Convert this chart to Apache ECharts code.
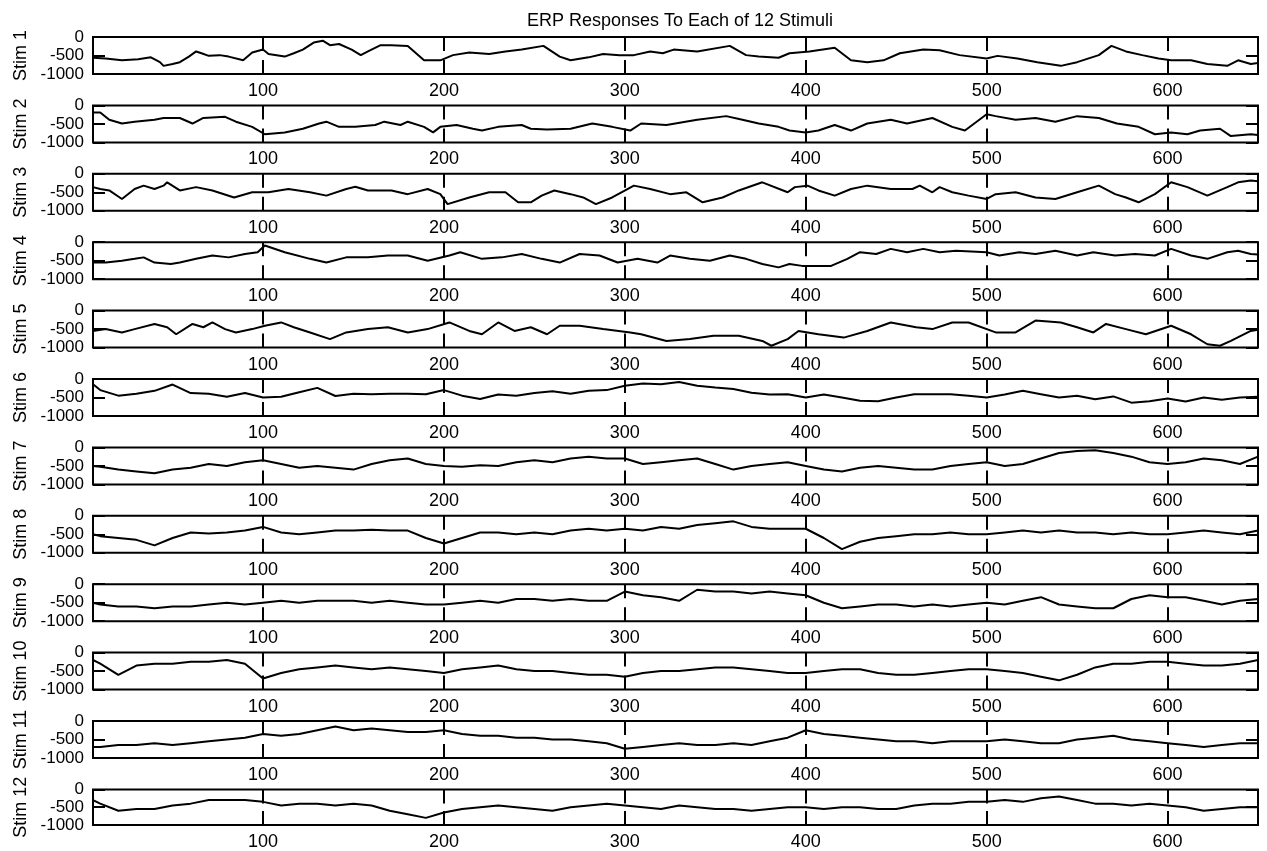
<!DOCTYPE html>
<html><head><meta charset="utf-8">
<script src="https://cdn.jsdelivr.net/npm/echarts@6/dist/echarts.min.js"></script>
<style>html,body{margin:0;padding:0;background:#fff}#c{width:1267px;height:851px}</style>
</head><body><div id="c"></div>
<script>
const chartTitle = 'ERP Responses To Each of 12 Stimuli';
const stimNames = ['Stim 1','Stim 2','Stim 3','Stim 4','Stim 5','Stim 6','Stim 7','Stim 8','Stim 9','Stim 10','Stim 11','Stim 12'];
const xTicks = [100,200,300,400,500,600];
const yTicks = [-1000,-500,0];

const stim1X = [6,13,22,31,38,43,45,50,54,59,63,66,70,76,81,89,94,100,103,112,117,122,128,133,137,142,149,154,158,165,171,180,189,198,205,214,225,234,243,255,264,270,280,288,297,305,314,321,327,340,358,367,374,385,391,402,416,425,434,443,452,465,474,485,500,506,517,528,541,550,562,569,577,586,595,602,613,622,633,639,646,650];
const stim1Y = [-560,-580,-630,-600,-550,-680,-780,-730,-680,-530,-390,-440,-510,-490,-530,-630,-420,-340,-460,-530,-440,-340,-150,-100,-220,-190,-340,-490,-390,-220,-220,-240,-630,-630,-490,-420,-460,-390,-340,-240,-530,-630,-550,-460,-490,-490,-390,-440,-340,-390,-240,-490,-530,-560,-440,-390,-290,-630,-680,-630,-440,-340,-360,-490,-580,-510,-580,-680,-780,-680,-490,-240,-390,-490,-580,-630,-630,-730,-780,-630,-730,-700];

const stim2X = [6,10,15,22,29,40,45,54,61,67,79,85,94,101,112,122,131,135,142,151,162,167,176,180,189,194,198,207,216,221,230,243,248,257,270,282,293,303,309,323,340,356,365,374,385,391,400,407,416,425,434,447,456,470,481,488,500,505,516,527,538,550,562,572,584,593,602,611,618,629,635,646,650];
const stim2Y = [-190,-190,-390,-490,-440,-390,-340,-340,-490,-340,-310,-440,-580,-780,-730,-630,-490,-440,-580,-580,-530,-440,-530,-440,-580,-730,-580,-530,-630,-680,-580,-530,-630,-650,-630,-490,-580,-680,-490,-530,-390,-290,-390,-490,-580,-680,-730,-680,-530,-680,-490,-390,-490,-340,-580,-680,-240,-290,-390,-340,-440,-290,-340,-490,-580,-780,-730,-780,-680,-630,-830,-780,-800];

const stim3X = [6,10,15,22,29,34,40,45,47,54,63,72,84,94,103,114,126,135,146,151,158,171,180,191,198,202,214,225,234,241,248,254,261,270,277,284,293,305,314,325,334,343,354,363,376,390,394,401,407,416,425,434,447,459,463,470,474,481,490,500,505,516,527,538,550,562,571,577,584,593,602,611,622,633,639,646,650];
const stim3Y = [-360,-410,-450,-680,-410,-320,-410,-320,-230,-450,-360,-450,-640,-500,-500,-410,-500,-590,-410,-350,-450,-450,-550,-410,-550,-820,-640,-500,-500,-770,-770,-590,-450,-550,-640,-820,-640,-320,-410,-550,-500,-770,-640,-450,-230,-500,-360,-320,-450,-590,-410,-320,-410,-410,-320,-500,-360,-500,-590,-680,-550,-500,-640,-680,-500,-320,-550,-640,-770,-550,-230,-360,-590,-360,-230,-180,-200];

const stim4X = [6,13,22,29,34,40,49,54,63,72,81,90,97,101,112,126,135,146,158,169,180,191,203,209,221,232,243,254,264,275,286,296,307,318,325,336,347,358,367,376,385,391,398,414,423,430,439,447,456,465,474,483,500,507,518,527,538,550,559,571,582,593,602,613,622,633,639,646,650];
const stim4Y = [-550,-550,-500,-450,-410,-550,-590,-550,-450,-360,-410,-320,-270,-90,-270,-450,-550,-410,-410,-360,-360,-500,-360,-270,-450,-410,-320,-450,-550,-320,-360,-550,-450,-550,-360,-450,-500,-360,-450,-590,-680,-590,-640,-640,-450,-270,-320,-180,-270,-180,-270,-230,-270,-360,-270,-320,-230,-360,-270,-360,-320,-360,-180,-360,-450,-270,-230,-320,-330];

const stim5X = [6,13,22,29,40,47,52,61,67,72,79,85,94,101,110,117,126,137,146,158,169,180,191,203,214,221,230,239,248,257,264,275,288,303,309,323,336,349,363,376,381,390,396,407,421,434,447,461,470,481,490,505,516,527,541,550,559,566,577,588,602,613,622,629,635,646,650];
const stim5Y = [-550,-500,-590,-500,-360,-450,-640,-360,-450,-320,-500,-590,-500,-410,-320,-450,-590,-770,-590,-500,-450,-590,-500,-320,-550,-640,-320,-550,-450,-640,-410,-410,-500,-590,-640,-820,-770,-680,-680,-820,-950,-770,-550,-640,-730,-550,-320,-450,-500,-320,-320,-590,-590,-270,-320,-450,-590,-360,-500,-640,-410,-640,-910,-950,-820,-550,-520];

const xs10 = [6,10,20,30,40,50,60,70,80,90,100,110,120,130,140,150,160,170,180,190,200,210,220,230,240,250,260,270,280,290,300,310,320,330,340,350,360,370,380,390,400,410,420,430,440,450,460,470,480,490,500,510,520,530,540,550,560,570,580,590,600,610,620,630,640,650];
const stim6 = [-140,-300,-450,-400,-320,-150,-380,-400,-480,-380,-500,-480,-360,-240,-460,-400,-410,-400,-400,-410,-300,-450,-540,-420,-450,-380,-330,-400,-320,-300,-180,-120,-140,-80,-180,-230,-270,-370,-420,-410,-500,-420,-500,-590,-600,-500,-410,-410,-410,-450,-500,-420,-320,-410,-500,-450,-550,-470,-640,-600,-530,-610,-500,-560,-500,-480];
const stim7 = [-500,-520,-600,-650,-700,-600,-550,-450,-500,-400,-350,-450,-550,-500,-550,-600,-450,-350,-300,-450,-500,-520,-480,-500,-400,-350,-400,-300,-250,-300,-300,-450,-400,-350,-300,-450,-600,-500,-450,-400,-500,-600,-650,-550,-500,-550,-600,-600,-500,-450,-400,-500,-450,-300,-150,-100,-80,-150,-250,-400,-450,-400,-300,-350,-450,-250];
const stim8 = [-500,-550,-600,-650,-800,-600,-450,-480,-450,-400,-300,-450,-500,-450,-400,-400,-380,-400,-400,-600,-750,-600,-450,-450,-500,-450,-500,-400,-350,-400,-350,-400,-300,-350,-250,-200,-150,-300,-350,-350,-350,-600,-900,-700,-600,-550,-500,-500,-450,-500,-500,-450,-400,-450,-400,-450,-450,-500,-450,-500,-500,-450,-400,-450,-500,-400];
const stim9 = [-500,-550,-600,-600,-650,-600,-600,-550,-500,-550,-500,-450,-500,-450,-450,-450,-500,-450,-500,-550,-550,-500,-450,-500,-400,-400,-450,-400,-450,-450,-200,-300,-350,-450,-150,-200,-200,-250,-200,-250,-300,-500,-650,-600,-550,-550,-600,-550,-600,-550,-500,-550,-450,-350,-550,-600,-650,-650,-400,-300,-350,-350,-450,-550,-450,-400];
const stim10 = [-200,-300,-600,-350,-300,-300,-250,-250,-200,-300,-700,-550,-450,-400,-350,-400,-450,-400,-450,-500,-550,-450,-400,-350,-450,-500,-500,-550,-600,-600,-650,-550,-500,-500,-450,-400,-400,-450,-500,-550,-550,-500,-450,-450,-550,-600,-600,-550,-500,-450,-450,-500,-550,-650,-750,-600,-400,-300,-300,-250,-250,-300,-350,-350,-300,-200];
const stim11 = [-700,-700,-650,-650,-600,-650,-600,-550,-500,-450,-350,-400,-350,-250,-150,-250,-200,-250,-300,-300,-250,-350,-400,-400,-450,-450,-500,-500,-550,-600,-750,-700,-650,-600,-650,-650,-600,-650,-550,-450,-250,-350,-400,-450,-500,-550,-550,-600,-550,-550,-550,-500,-550,-600,-600,-500,-450,-400,-500,-550,-600,-650,-700,-650,-600,-600];
const stim12 = [-300,-400,-600,-550,-550,-450,-400,-300,-300,-300,-350,-450,-400,-400,-450,-400,-450,-600,-700,-800,-650,-550,-500,-450,-500,-550,-600,-500,-450,-400,-450,-500,-550,-450,-500,-550,-550,-600,-550,-500,-500,-550,-500,-500,-550,-550,-450,-400,-400,-350,-350,-300,-350,-250,-200,-300,-400,-400,-450,-400,-450,-500,-600,-550,-500,-500];

const allX = [stim1X,stim2X,stim3X,stim4X,stim5X,xs10,xs10,xs10,xs10,xs10,xs10,xs10];
const allY = [stim1Y,stim2Y,stim3Y,stim4Y,stim5Y,stim6,stim7,stim8,stim9,stim10,stim11,stim12];

const FONT = 'Liberation Sans, Arial, sans-serif';
const top0 = 37, step = 68.4, h = 37, left = 93, right = 9;
const grids = [], xAxes = [], yAxes = [], series = [];
const tickStyle = {color:'#000', width:2};
const plain = v => String(v);
allY.forEach((vals, i) => {
  const xv = allX[i];
  grids.push({left:left, right:right, top: top0 + step*i, height:h, show:true, borderColor:'#000', borderWidth:2, backgroundColor:'transparent'});
  xAxes.push({gridIndex:i, type:'value', min:6, max:650, position:'bottom',
    axisLine:{show:false, onZero:false}, splitLine:{show:false},
    axisTick:{show:true, inside:true, length:14, customValues:xTicks, lineStyle:tickStyle},
    axisLabel:{customValues:xTicks, margin:8, color:'#000', fontSize:18, fontFamily:FONT, formatter:plain}});
  xAxes.push({gridIndex:i, type:'value', min:6, max:650, position:'top',
    axisLine:{show:false, onZero:false}, splitLine:{show:false},
    axisTick:{show:true, inside:true, length:14, customValues:xTicks, lineStyle:tickStyle},
    axisLabel:{show:false}});
  yAxes.push({gridIndex:i, type:'value', min:-1000, max:0, position:'left',
    name: stimNames[i], nameLocation:'middle', nameGap:60, nameRotate:90,
    nameTextStyle:{color:'#000', fontSize:18, fontFamily:FONT},
    axisLine:{show:false, onZero:false}, splitLine:{show:false},
    axisTick:{show:true, inside:true, length:12, customValues:yTicks, lineStyle:tickStyle},
    axisLabel:{customValues:yTicks, margin:9, color:'#000', fontSize:17, fontFamily:FONT, formatter:plain}});
  yAxes.push({gridIndex:i, type:'value', min:-1000, max:0, position:'right',
    axisLine:{show:false, onZero:false}, splitLine:{show:false},
    axisTick:{show:true, inside:true, length:12, customValues:yTicks, lineStyle:tickStyle},
    axisLabel:{show:false}});
  series.push({type:'line', xAxisIndex:2*i, yAxisIndex:2*i,
    data: xv.map((x, j) => [x, vals[j]]),
    showSymbol:false, symbol:'none', lineStyle:{color:'#000', width:2}, silent:true});
});

const chart = echarts.init(document.getElementById('c'), null, {renderer:'canvas'});
chart.setOption({
  animation:false,
  backgroundColor:'#fff',
  title:{text:chartTitle, left:675, top:7, textAlign:'center',
    textStyle:{color:'#000', fontSize:18, fontWeight:'normal', fontFamily:FONT}},
  grid: grids, xAxis: xAxes, yAxis: yAxes, series: series
});
</script>
</body></html>
